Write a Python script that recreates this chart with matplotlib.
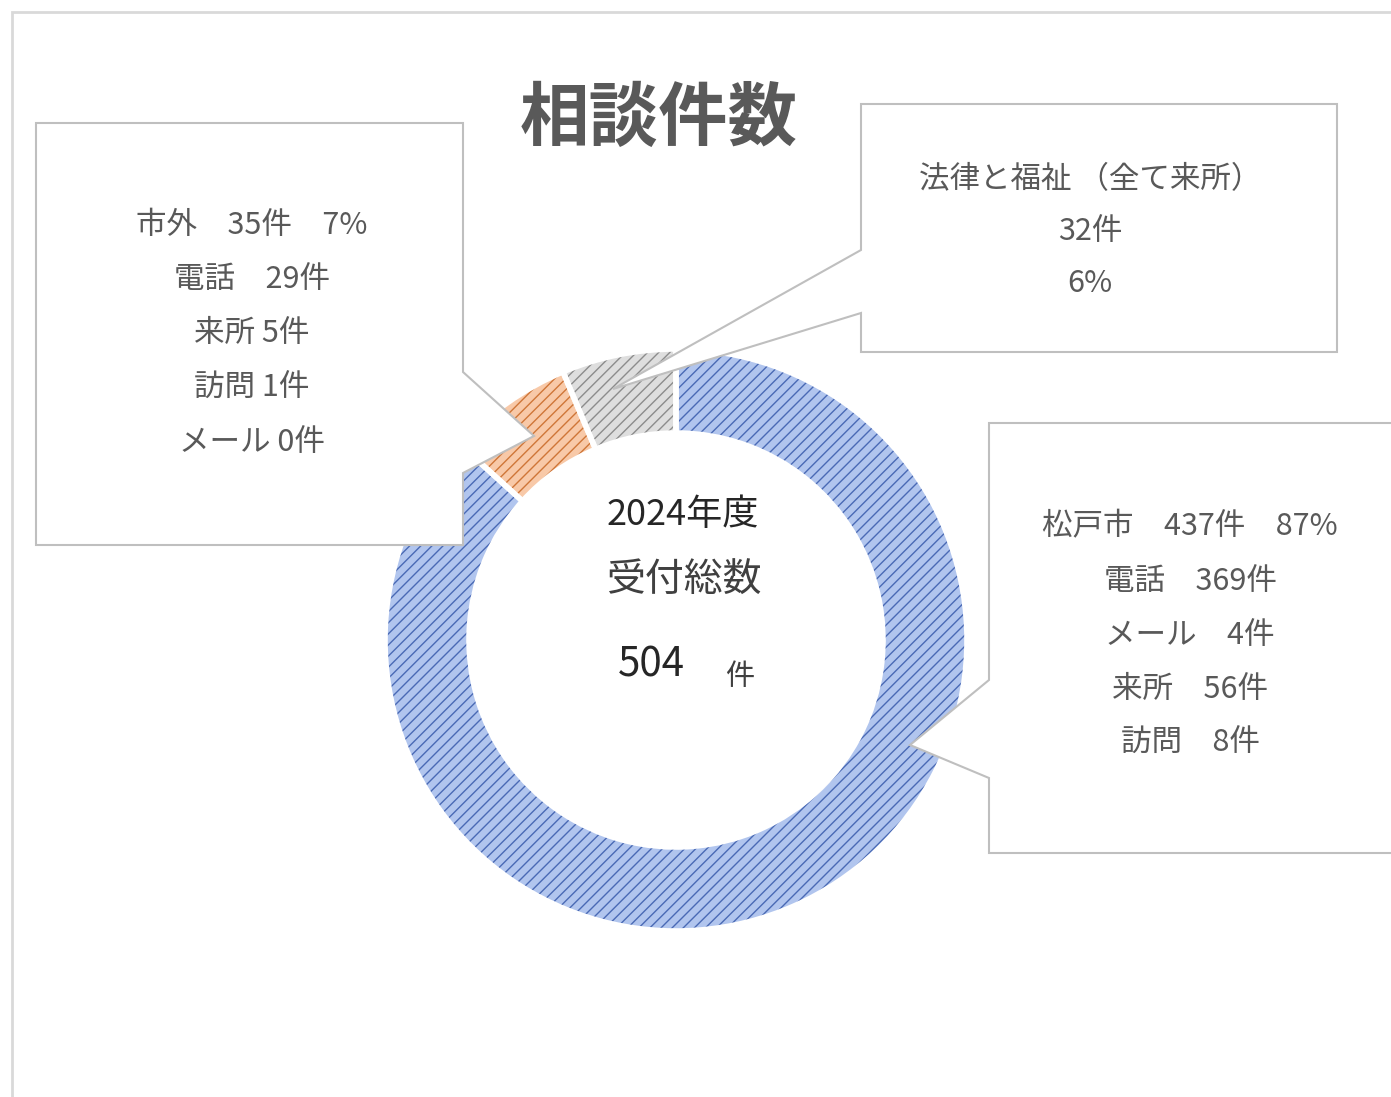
import matplotlib
matplotlib.use("Agg")
import matplotlib.pyplot as plt
from matplotlib.patches import Polygon, Rectangle

plt.rcParams["font.family"] = ["Noto Sans CJK JP", "DejaVu Sans"]
plt.rcParams["hatch.linewidth"] = 1.0

#------------------------------data-------------------------------------
year = "2024年度"
categories = ["松戸市", "市外", "法律と福祉（全て来所）"]
counts = [437, 35, 32]
city_channels = ["電話", "メール", "来所", "訪問"]
city_counts = [369, 4, 56, 8]
outside_channels = ["電話", "来所", "訪問", "メール"]
outside_counts = [29, 5, 1, 0]

face_colors = ["#b1c5ee", "#f8c9a8", "#dedede"]
hatch_colors = ["#4a6ab5", "#cf7638", "#8c8c8c"]
#-----------------------------------------------------------------------

W, H = 1391, 1097
fig = plt.figure(figsize=(W / 100, H / 100), dpi=100)
ax = fig.add_axes([0, 0, 1, 1])

def P(x, y):
    # image pixel coords -> axes coords (y up)
    return (x, H - y)

total = sum(counts)
pct = [round(c * 100 / total) for c in counts]

# donut
cx, cy = P(676, 640)
R = 291
ring = 84
wedges, _ = ax.pie(counts, colors=face_colors, startangle=90, counterclock=False,
                   center=(cx, cy), radius=R,
                   wedgeprops=dict(width=ring, linewidth=0))
for w, hc in zip(wedges, hatch_colors):
    w.set_hatch("///")
    w.set_edgecolor(hc)
    w.set_linewidth(0)
ax.pie(counts, startangle=90, counterclock=False, center=(cx, cy), radius=R,
       wedgeprops=dict(width=ring, fill=False, edgecolor="white", linewidth=4))

ax.set_xlim(0, W)
ax.set_ylim(0, H)
ax.set_aspect("auto")
ax.axis("off")

# chart area border
ax.add_patch(Rectangle(P(12, 1120), 1420, 1108, fill=False, ec="#d9d9d9", lw=2, zorder=1))

# callout shapes (box + pointer)
box_style = dict(fc="white", ec="#bfbfbf", lw=1.5, zorder=5, joinstyle="miter")
left_box = [(36, 123), (463, 123), (463, 372), (534, 436), (463, 473), (463, 545), (36, 545)]
top_box = [(861, 104), (1337, 104), (1337, 352), (861, 352), (861, 313), (613, 389), (861, 250)]
right_box = [(989, 423), (1400, 423), (1400, 853), (989, 853), (989, 778), (910, 745), (989, 680)]
for pts in (left_box, top_box, right_box):
    ax.add_patch(Polygon([P(x, y) for x, y in pts], closed=True, **box_style))

txt = dict(color="#595959", fontsize=22, ha="center", va="center", zorder=6)

# left label: 市外
left_lines = [f"{categories[1]}　{counts[1]}件　{pct[1]}%"]
left_lines.append(f"{outside_channels[0]}　{outside_counts[0]}件")
left_lines += [f"{n} {c}件" for n, c in zip(outside_channels[1:], outside_counts[1:])]
for i, s in enumerate(left_lines):
    ax.text(*P(252, 225 + 54.3 * i), s, **txt)

# top label: 法律と福祉
top_lines = ["法律と福祉 （全て来所）", f"{counts[2]}件", f"{pct[2]}%"]
for i, s in enumerate(top_lines):
    ax.text(*P(1090, 180 + 52 * i), s, **txt)

# right label: 松戸市
right_lines = [f"{categories[0]}　{counts[0]}件　{pct[0]}%"]
right_lines += [f"{n}　{c}件" for n, c in zip(city_channels, city_counts)]
for i, s in enumerate(right_lines):
    ax.text(*P(1190, 527 + 54 * i), s, **txt)

# centre text
ax.text(*P(683, 515), year, color="#262626", fontsize=26, ha="center", va="center", zorder=6)
ax.text(*P(684, 581), "受付総数", color="#404040", fontsize=28, ha="center", va="center", zorder=6)
ax.text(*P(651, 665), str(total), color="#262626", fontsize=29, ha="center", va="center", zorder=6)
ax.text(*P(740, 677), "件", color="#404040", fontsize=21, ha="center", va="center", zorder=6)

# title
ax.text(*P(659, 120), "相談件数", color="#595959", fontsize=50, fontweight="bold",
        ha="center", va="center", zorder=6)

fig.savefig("out.png", dpi=100, facecolor="white")
